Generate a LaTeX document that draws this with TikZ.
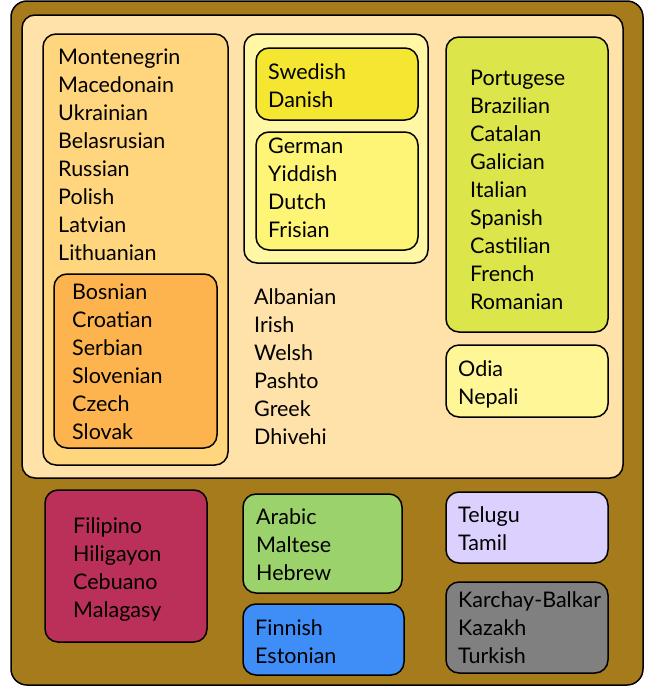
\documentclass[tikz,border=0pt]{standalone}
\usepackage{fontspec}
\setmainfont{Lato}
\definecolor{bark}{RGB}{166,123,27}
\definecolor{cream}{RGB}{255,226,170}
\definecolor{apricot}{RGB}{255,213,126}
\definecolor{tangerine}{RGB}{253,180,78}
\definecolor{paleyellow}{RGB}{255,246,166}
\definecolor{lemon}{RGB}{244,230,49}
\definecolor{butter}{RGB}{254,245,119}
\definecolor{lime}{RGB}{220,230,74}
\definecolor{straw}{RGB}{255,247,151}
\definecolor{raspberry}{RGB}{186,48,89}
\definecolor{leaf}{RGB}{155,210,107}
\definecolor{sky}{RGB}{63,142,247}
\definecolor{lilac}{RGB}{220,208,255}
\definecolor{slate}{RGB}{128,128,128}
\tikzset{
    langbox/.style = {draw = black, line width = 1.5pt, rounded corners = 13pt},
    % anchored at the baseline of the last line
    langs/.style = {anchor = base west, inner sep = 0pt, align = left,
                    font = \fontsize{21.5}{28}\selectfont}
}
\begin{document}
\begin{tikzpicture}[x = 1pt, y = -1pt]
    \useasboundingbox (0, 0) rectangle (650, 689);

    % outer frame and the light panel
    \draw[langbox, fill = bark, rounded corners = 16pt] (11, 1) rectangle (643, 685);
    \draw[langbox, fill = cream] (22, 15) rectangle (623, 478);

    % left column
    \draw[langbox, fill = apricot] (43, 34) rectangle (228, 465);
    \node[langs] (slavic) at (58, 260) {Montenegrin\\Macedonain\\Ukrainian\\Belasrusian\\Russian\\Polish\\Latvian\\Lithuanian};
    \draw[langbox, fill = tangerine] (54, 274) rectangle (217, 448);
    \node[langs] (southslavic) at (72, 439) {Bosnian\\Croatian\\Serbian\\Slovenian\\Czech\\Slovak};

    % middle column
    \draw[langbox, fill = paleyellow] (244, 34) rectangle (428, 263);
    \draw[langbox, fill = lemon] (256, 48) rectangle (418, 120);
    \node[langs] (nordic) at (268, 107) {Swedish\\Danish};
    \draw[langbox, fill = butter] (256, 132) rectangle (418, 250);
    \node[langs] (westgerman) at (268, 237) {German\\Yiddish\\Dutch\\Frisian};
    \node[langs] (loose) at (254, 444) {Albanian\\Irish\\Welsh\\Pashto\\Greek\\Dhivehi};

    % right column
    \draw[langbox, fill = lime] (446, 37) rectangle (608, 332);
    \node[langs] (romance) at (470, 309) {Portugese\\Brazilian\\Catalan\\Galician\\Italian\\Spanish\\Castilian\\French\\Romanian};
    \draw[langbox, fill = straw] (446, 345) rectangle (608, 417);
    \node[langs] (indic) at (458, 404) {Odia\\Nepali};

    % bottom row
    \draw[langbox, fill = raspberry] (45, 490) rectangle (207, 642);
    \node[langs] (austro) at (73, 617) {Filipino\\Hiligayon\\Cebuano\\Malagasy};
    \draw[langbox, fill = leaf] (243, 494) rectangle (402, 593);
    \node[langs] (semitic) at (256, 580) {Arabic\\Maltese\\Hebrew};
    \draw[langbox, fill = sky] (243, 604) rectangle (404, 675);
    \node[langs] (finnic) at (255, 663) {Finnish\\Estonian};
    \draw[langbox, fill = lilac] (446, 492) rectangle (608, 563);
    \node[langs] (dravidian) at (458, 550) {Telugu\\Tamil};
    \draw[langbox, fill = slate] (446, 582) rectangle (608, 673);
    \node[langs] (turkic) at (458, 663) {Karchay-Balkar\\Kazakh\\Turkish};
\end{tikzpicture}
\end{document}
